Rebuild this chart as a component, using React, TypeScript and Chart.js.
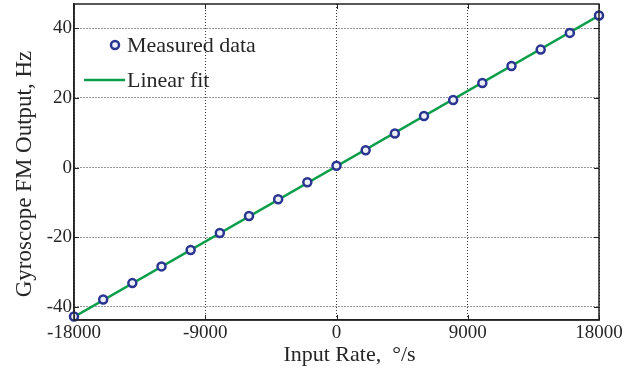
import React, { useEffect, useRef } from "react";
import { Chart, registerables } from "chart.js";

Chart.register(...registerables);

const inputRates = [-18000, -16000, -14000, -12000, -10000, -8000, -6000, -4000, -2000, 0, 2000, 4000, 6000, 8000, 10000, 12000, 14000, 16000, 18000];
const measuredOutput = [-42.8, -37.9, -33.2, -28.4, -23.7, -18.8, -13.9, -9.1, -4.2, 0.5, 5.0, 9.8, 14.8, 19.4, 24.3, 29.2, 33.9, 38.7, 43.7];
const fitRates = [-18000, 18000];
const fitOutput = [-42.9, 43.7];
const xTicks = [-18000, -9000, 0, 9000, 18000];
const yTicks = [-40, -20, 0, 20, 40];
const xTitle = "Input Rate,  °/s";
const yTitle = "Gyroscope FM Output, Hz";

const SERIF = "'Liberation Serif', 'DejaVu Serif', serif";
const TEXT = "#262626";
const BLUE = "#2a3592";
const GREEN = "#0a9e4a";

const legendPlugin = {
  id: "inlineLegend",
  afterDatasetsDraw(chart: any) {
    const { ctx, chartArea } = chart;
    const x0 = chartArea.left;
    const y0 = chartArea.top;
    ctx.save();
    ctx.beginPath();
    ctx.arc(x0 + 41, y0 + 41, 4, 0, Math.PI * 2);
    ctx.fillStyle = "#eef0f8";
    ctx.fill();
    ctx.lineWidth = 2.5;
    ctx.strokeStyle = BLUE;
    ctx.stroke();
    ctx.beginPath();
    ctx.moveTo(x0 + 10, y0 + 76);
    ctx.lineTo(x0 + 51, y0 + 76);
    ctx.lineWidth = 2.5;
    ctx.strokeStyle = GREEN;
    ctx.stroke();
    ctx.fillStyle = TEXT;
    ctx.font = "22px " + SERIF;
    ctx.textBaseline = "middle";
    ctx.textAlign = "left";
    ctx.fillText("Measured data", x0 + 53, y0 + 42);
    ctx.fillText("Linear fit", x0 + 53, y0 + 77);
    ctx.restore();
  },
};

const titlesPlugin = {
  id: "axisTitles",
  afterDraw(chart: any) {
    const { ctx, chartArea } = chart;
    ctx.save();
    ctx.fillStyle = TEXT;
    ctx.textAlign = "center";
    ctx.textBaseline = "middle";
    ctx.font = "22px " + SERIF;
    ctx.fillText(xTitle, (chartArea.left + chartArea.right) / 2 + 13, chartArea.bottom + 35);
    ctx.translate(25, (chartArea.top + chartArea.bottom) / 2 + 12);
    ctx.rotate(-Math.PI / 2);
    ctx.font = "23px " + SERIF;
    ctx.fillText(yTitle, 0, 0);
    ctx.restore();
  },
};

const framePlugin = {
  id: "frame",
  afterDatasetsDraw(chart: any) {
    const { ctx, chartArea, scales } = chart;
    const { left, right, top, bottom } = chartArea;
    ctx.save();
    ctx.strokeStyle = "#222";
    ctx.lineWidth = 1;
    ctx.beginPath();
    for (const v of yTicks) {
      const y = Math.round(scales.y.getPixelForValue(v)) + 0.5;
      ctx.moveTo(left, y); ctx.lineTo(left + 5, y);
      ctx.moveTo(right, y); ctx.lineTo(right - 5, y);
    }
    for (const v of xTicks) {
      const x = Math.round(scales.x.getPixelForValue(v)) + 0.5;
      ctx.moveTo(x, bottom); ctx.lineTo(x, bottom - 5);
      ctx.moveTo(x, top); ctx.lineTo(x, top + 5);
    }
    ctx.stroke();
    ctx.lineWidth = 1.5;
    ctx.strokeRect(left, top, right - left, bottom - top);
    ctx.restore();
  },
};

export default function App() {
  const ref = useRef<HTMLCanvasElement>(null);
  useEffect(() => {
    if (!ref.current) return;
    const chart = new Chart(ref.current, {
      type: "scatter",
      data: {
        datasets: [
          {
            label: "Linear fit",
            data: fitRates.map((x, i) => ({ x, y: fitOutput[i] })),
            showLine: true,
            borderColor: GREEN,
            borderWidth: 2.5,
            pointRadius: 0,
            order: 2,
          },
          {
            label: "Measured data",
            data: inputRates.map((x, i) => ({ x, y: measuredOutput[i] })),
            showLine: false,
            pointRadius: 4,
            pointBorderWidth: 2.5,
            pointBorderColor: BLUE,
            pointBackgroundColor: "#eef0f8",
            clip: false,
            order: 1,
          },
        ],
      },
      options: {
        responsive: false,
        animation: false,
        layout: { autoPadding: false, padding: { top: 4, right: 40, left: 0, bottom: 0 } },
        plugins: { legend: { display: false }, tooltip: { enabled: false } },
        scales: {
          x: {
            type: "linear",
            min: -18000,
            max: 18000,
            afterBuildTicks: (s: any) => { s.ticks = xTicks.map((v) => ({ value: v })); },
            afterFit: (s: any) => { s.height = 52; s.paddingLeft = 0; s.paddingRight = 0; },
            grid: { color: "#333", lineWidth: 1, drawTicks: false },
            border: { color: "#222", width: 1.5, dash: [1, 2] },
            ticks: { color: TEXT, font: { family: SERIF, size: 19 }, padding: 2, maxRotation: 0, callback: (v: any) => String(v) },
            title: { display: false },
          },
          y: {
            type: "linear",
            min: -43.8,
            max: 47,
            afterBuildTicks: (s: any) => { s.ticks = yTicks.map((v) => ({ value: v })); },
            afterFit: (s: any) => { s.width = 74; s.paddingTop = 0; s.paddingBottom = 0; },
            grid: { color: "#333", lineWidth: 1, drawTicks: false },
            border: { color: "#222", width: 1.5, dash: [1, 2] },
            ticks: { color: TEXT, font: { family: SERIF, size: 19 }, padding: 2, callback: (v: any) => String(v) },
            title: { display: false },
          },
        },
      },
      plugins: [framePlugin, legendPlugin, titlesPlugin],
    } as any);
    return () => chart.destroy();
  }, []);
  return (
    <div style={{ position: "fixed", left: 0, top: 0, width: 639, height: 372, background: "#fff" }}>
      <canvas ref={ref} width={639} height={372} style={{ display: "block" }} />
    </div>
  );
}
